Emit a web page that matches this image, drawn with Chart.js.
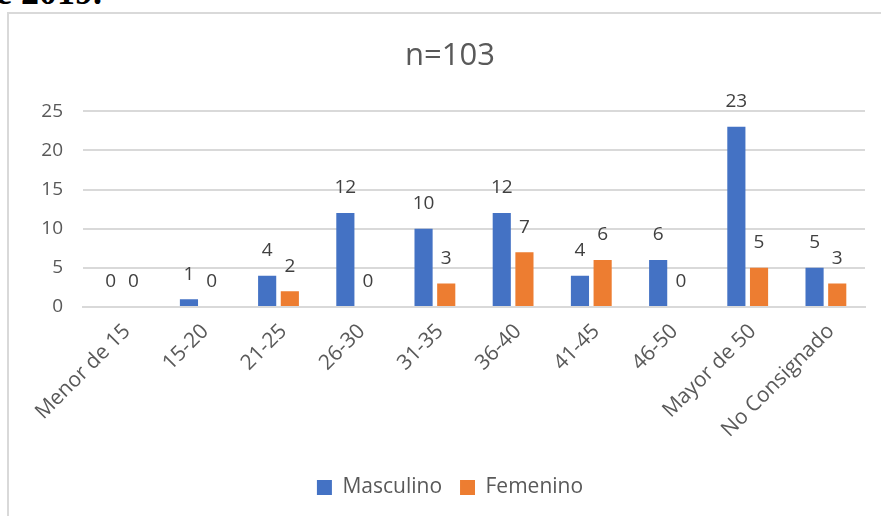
<!DOCTYPE html>
<html>
<head>
<meta charset="utf-8">
<script src="https://cdn.jsdelivr.net/npm/chart.js@4/dist/chart.umd.min.js"></script>
<style>
  html, body { margin: 0; padding: 0; background: #fff; overflow: hidden; }
  body { width: 881px; height: 516px; position: relative; }
  #caption {
    position: absolute; left: -4px; top: -28px;
    font: bold 36px "Liberation Serif", "Times New Roman", serif;
    color: #000; white-space: nowrap; line-height: 40px;
  }
  #box {
    position: absolute; left: 7px; top: 12px; width: 890px; height: 520px;
    border: 2px solid #d9d9d9; box-sizing: border-box;
  }
  #wrap { position: absolute; left: 9px; top: 14px; width: 872px; height: 520px; }
</style>
</head>
<body>
<div id="caption">e 2019.</div>
<div id="box"></div>
<div id="wrap"><canvas id="c"></canvas></div>
<script>
const categories = ['Menor de 15', '15-20', '21-25', '26-30', '31-35', '36-40', '41-45', '46-50', 'Mayor de 50', 'No Consignado'];
const masculino = [0, 1, 4, 12, 10, 12, 4, 6, 23, 5];
const femenino  = [0, 0, 2, 0, 3, 7, 6, 0, 5, 3];
const yTicks = [0, 5, 10, 15, 20, 25];

const FONT = '"Open Sans", "Liberation Sans", sans-serif';
const GREY = '#595959';

// Value labels drawn above each bar
const valueLabels = {
  id: 'valueLabels',
  afterDatasetsDraw(chart) {
    const ctx = chart.ctx;
    ctx.save();
    ctx.font = '19px ' + FONT;
    ctx.fillStyle = '#404040';
    ctx.textAlign = 'center';
    ctx.textBaseline = 'middle';
    chart.data.datasets.forEach((ds, i) => {
      chart.getDatasetMeta(i).data.forEach((bar, j) => {
        ctx.fillText(String(ds.data[j]), bar.x, bar.y - 25);
      });
    });
    ctx.restore();
  }
};

new Chart(document.getElementById('c'), {
  type: 'bar',
  data: {
    labels: categories,
    datasets: [
      { label: 'Masculino', data: masculino, backgroundColor: '#4472C4', categoryPercentage: 0.58, barPercentage: 0.8 },
      { label: 'Femenino', data: femenino, backgroundColor: '#ED7D31', categoryPercentage: 0.58, barPercentage: 0.8 }
    ]
  },
  options: {
    responsive: true,
    maintainAspectRatio: false,
    animation: false,
    layout: { padding: { left: 26, right: 16, top: 10, bottom: 26 } },
    plugins: {
      title: {
        display: true, text: 'n=103', color: GREY,
        font: { family: FONT, size: 31, weight: 'normal' },
        padding: { top: 14, bottom: 36 }
      },
      legend: {
        position: 'bottom',
        labels: {
          color: GREY, boxWidth: 15, boxHeight: 15, padding: 18,
          font: { family: FONT, size: 21 }
        }
      },
      tooltip: { enabled: false }
    },
    scales: {
      x: {
        grid: { display: false },
        border: { color: '#d9d9d9', width: 2 },
        afterFit(axis) { axis.height = 152; },
        ticks: {
          color: GREY, minRotation: 45, maxRotation: 45, padding: 4, labelOffset: 5,
          font: { family: FONT, size: 21 }
        }
      },
      y: {
        min: 0, max: 25,
        afterBuildTicks(axis) { axis.ticks = yTicks.map(v => ({ value: v })); },
        afterFit(axis) { axis.width = 48; },
        grid: { color: '#d9d9d9', lineWidth: 2, drawTicks: false },
        border: { display: false },
        ticks: {
          color: GREY, padding: 20,
          font: { family: FONT, size: 19 }
        }
      }
    }
  },
  plugins: [valueLabels]
});
</script>
</body>
</html>
